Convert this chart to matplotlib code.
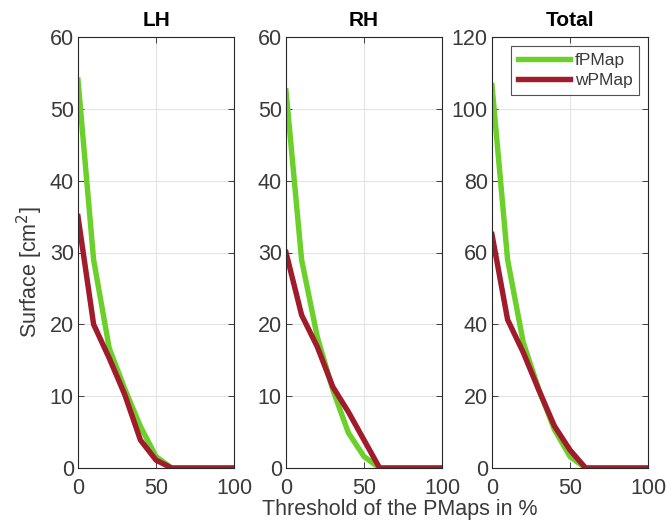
import numpy as np
import matplotlib.pyplot as plt

plt.rcParams['font.family'] = ['Liberation Sans', 'DejaVu Sans']

limiar = [0, 10, 20, 30, 40, 50, 60, 70, 80, 90, 100]

lh_fpmap = [54, 29, 16.7, 11, 5.8, 1.6, 0, 0, 0, 0, 0]
lh_wpmap = [35, 20, 15.3, 10.2, 3.9, 1.1, 0, 0, 0, 0, 0]

rh_fpmap = [52.5, 29, 18.3, 10.9, 4.9, 1.6, 0, 0, 0, 0, 0]
rh_wpmap = [30, 21.3, 16.9, 11.3, 7.8, 3.9, 0, 0, 0, 0, 0]

total_fpmap = [106.5, 58, 35, 21.9, 10.7, 3.2, 0, 0, 0, 0, 0]
total_wpmap = [65, 41.3, 32.2, 21.7, 11.7, 5.0, 0, 0, 0, 0, 0]

titulos = ['LH', 'RH', 'Total']
limites_y = [(0, 60), (0, 60), (0, 120)]
ticks_y = [[0, 10, 20, 30, 40, 50, 60], [0, 10, 20, 30, 40, 50, 60],
           [0, 20, 40, 60, 80, 100, 120]]

cor_f = '#6BD02A'
cor_w = '#A01C2C'
cor_eixo = '#262626'
cor_texto = '#3A3A3A'

fig = plt.figure(figsize=(6.67, 5.24), dpi=100)

lefts = [78 / 667, 286 / 667, 492 / 667]
largura = 156 / 667
base = 56 / 524
altura = 431 / 524

series = [(lh_fpmap, lh_wpmap), (rh_fpmap, rh_wpmap), (total_fpmap, total_wpmap)]

for i, (f, w) in enumerate(series):
    ax = fig.add_axes([lefts[i], base, largura, altura])
    ax.plot(limiar, f, color=cor_f, lw=3.9, label='fPMap', solid_joinstyle='round')
    ax.plot(limiar, w, color=cor_w, lw=3.9, label='wPMap', solid_joinstyle='round')
    ax.set_xlim(0, 100)
    ax.set_ylim(*limites_y[i])
    ax.set_xticks([0, 50, 100])
    ax.set_yticks(ticks_y[i])
    ax.grid(True, color='#E3E3E3', lw=0.8)
    ax.set_axisbelow(True)
    ax.tick_params(direction='in', top=True, right=True, labelsize=15.5,
                   colors=cor_eixo, labelcolor=cor_texto, length=4, width=0.6)
    ax.tick_params(axis='x', pad=7)
    ax.tick_params(axis='y', pad=3)
    for lado in ax.spines.values():
        lado.set_color(cor_eixo)
        lado.set_linewidth(0.8)
    ax.set_title(titulos[i], fontsize=15, fontweight='bold', pad=8)
    if i == 2:
        leg = ax.legend(loc='upper right', fontsize=12.5, handlelength=3.0,
                        frameon=True, fancybox=False, borderaxespad=0.5,
                        handletextpad=0.25, borderpad=0.4, labelspacing=0.3)
        leg.get_frame().set_edgecolor(cor_eixo)
        leg.get_frame().set_linewidth(0.8)
        for t in leg.get_texts():
            t.set_color(cor_texto)

fig.text(400 / 667, 1 - 509 / 524, 'Threshold of the PMaps in %', ha='center',
         va='center', fontsize=15.5, color=cor_texto)
fig.text(30 / 667, 1 - 272 / 524, 'Surface [cm$^{2}$]', ha='center', va='center',
         rotation=90, fontsize=15.5, color=cor_texto)

fig.savefig('out.png', dpi=100)
